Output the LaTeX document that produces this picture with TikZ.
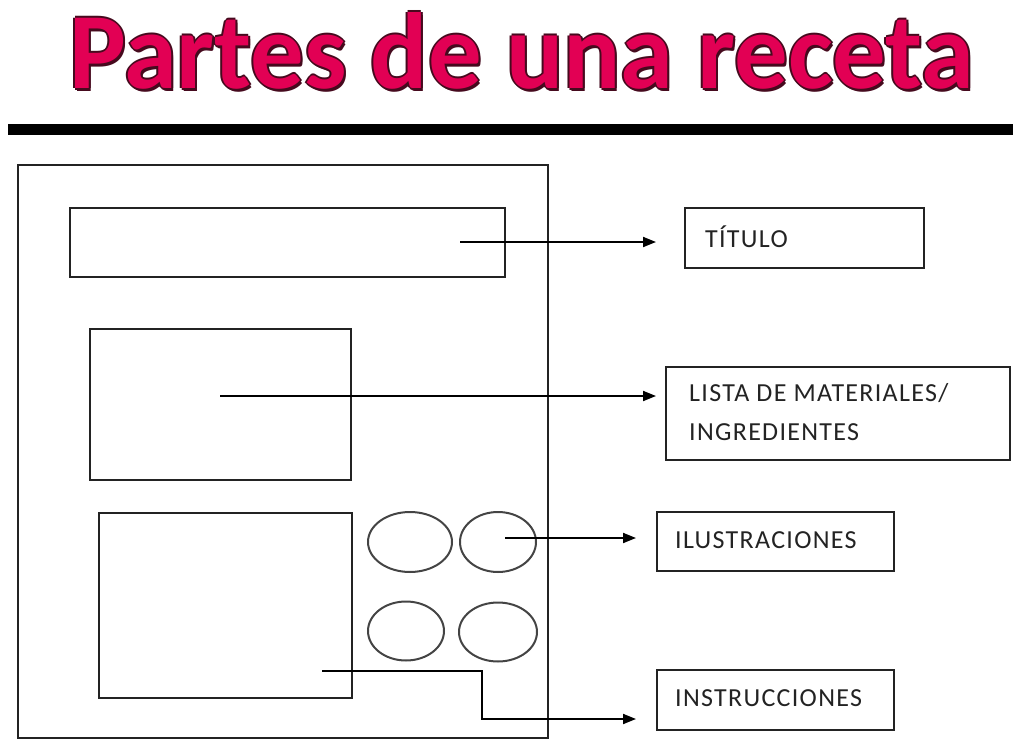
\documentclass[tikz,border=0pt]{standalone}
\usepackage{fontspec}
\usetikzlibrary{arrows.meta,shapes.geometric}
\newfontfamily\carlito{Carlito}
\newfontfamily\labfont[LetterSpace=5]{Carlito}
\definecolor{titlepink}{RGB}{226,0,84}
\definecolor{titledark}{RGB}{70,10,30}
\definecolor{ink}{RGB}{35,35,35}
\newcommand{\recipetitle}{\resizebox{905pt}{76pt}{\carlito\bfseries Partes de una receta}}
\tikzset{
  box/.style={draw=ink, line width=2.4pt, rectangle, inner sep=0pt},
  oval/.style={draw=ink!85, line width=2pt, ellipse, inner sep=0pt},
  lab/.style={anchor=west, inner sep=0pt, font=\labfont\fontsize{26}{29}\selectfont, text=ink},
  conn/.style={draw=black, line width=1.9pt, -{Triangle[length=13pt,width=10pt]}},
  tshadow/.style={anchor=base, inner sep=0pt, text=titledark},
}
\begin{document}
\begin{tikzpicture}[x=1pt,y=-1pt]
\useasboundingbox (0,0) rectangle (1013,750);
% title with outline
\foreach \dx/\dy [count=\i] in {-2/0,2/0,0/-2,0/2,2/3}{
  \node[tshadow] (tsh\i) at (522+\dx,88+\dy) {\recipetitle};
}
\node[anchor=base, inner sep=0pt, text=titlepink] (title) at (522,88) {\recipetitle};
% rule
\fill[black] (8,124) rectangle (1013,135);
% recipe page
\node[box, minimum width=530pt, minimum height=573pt] (page) at (283,451.5) {};
\node[box, minimum width=435pt, minimum height=69pt] (tbox) at (287.5,242.5) {};
\node[box, minimum width=261pt, minimum height=151pt] (mbox) at (220.5,404.5) {};
\node[box, minimum width=253pt, minimum height=185pt] (ibox) at (225.5,605.5) {};
\node[oval, minimum width=84pt, minimum height=60pt] (e1) at (410,542) {};
\node[oval, minimum width=76pt, minimum height=60pt] (e2) at (498,542) {};
\node[oval, minimum width=76pt, minimum height=59pt] (e3) at (406,631) {};
\node[oval, minimum width=78pt, minimum height=59pt] (e4) at (498,632) {};
% label boxes
\node[box, minimum width=239pt, minimum height=60pt] (ltit) at (804.5,238) {};
\node[box, minimum width=344pt, minimum height=93pt] (llist) at (838,413.5) {};
\node[box, minimum width=237pt, minimum height=59pt] (lilu) at (775.5,541.5) {};
\node[box, minimum width=237pt, minimum height=60pt] (linst) at (775.5,700) {};
% label texts
\node[lab] (ttit) at (705,237) {TÍTULO};
\node[lab] (tlist1) at (689,393) {LISTA DE MATERIALES/};
\node[lab] (tlist2) at (689,432) {INGREDIENTES};
\node[lab] (tilu) at (675,540) {ILUSTRACIONES};
\node[lab] (tinst) at (675,698) {INSTRUCCIONES};
% connector ends
\coordinate (s1) at (460,242);
\coordinate (a1) at (656,242);
\coordinate (s2) at (220,396);
\coordinate (a2) at (656,396);
\coordinate (s3) at (505,538);
\coordinate (a3) at (636,538);
\coordinate (s4) at (322,671);
\coordinate (k4) at (482,671);
\coordinate (a4) at (636,719);
\draw[conn] (s1) -- (a1);
\draw[conn] (s2) -- (a2);
\draw[conn] (s3) -- (a3);
\draw[conn] (s4) -- (k4) |- (a4);
\end{tikzpicture}
\end{document}
